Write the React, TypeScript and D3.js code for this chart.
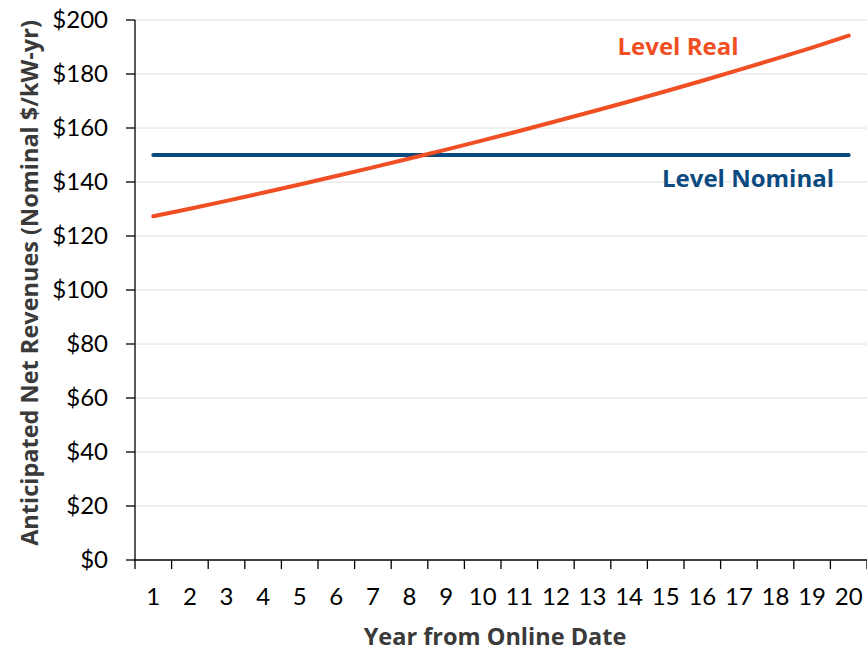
import React from "react";
import * as d3 from "d3";

const years = [1, 2, 3, 4, 5, 6, 7, 8, 9, 10, 11, 12, 13, 14, 15, 16, 17, 18, 19, 20];
const levelReal = [127.3, 130.1, 133.0, 136.0, 139.1, 142.2, 145.4, 148.7, 152.0, 155.4, 158.9, 162.5, 166.1, 169.8, 173.6, 177.5, 181.5, 185.6, 189.8, 194.2];
const levelNominal = [150, 150, 150, 150, 150, 150, 150, 150, 150, 150, 150, 150, 150, 150, 150, 150, 150, 150, 150, 150];
const yTicks = [0, 20, 40, 60, 80, 100, 120, 140, 160, 180, 200];

const W = 867, H = 652;
const L = 135, R = 867, T = 20, B = 560;
const FONT = "Lato, 'Open Sans', sans-serif";
const BOLD = "'Open Sans', Lato, sans-serif";

export default function App() {
  const x = d3.scaleBand<number>().domain(years).range([L, R]);
  const y = d3.scaleLinear().domain([0, 200]).range([B, T]);
  const cx = (d: number) => (x(d) as number) + x.bandwidth() / 2;
  const line = d3.line<number>().x((_, i) => cx(years[i])).y((v) => y(v));
  const bounds = years.map((d) => x(d) as number).concat([R]);

  return (
    <svg width={W} height={H} style={{ position: "absolute", left: 0, top: 0, background: "#fff" }}>
      {yTicks.map((t) => (
        <g key={t}>
          {t > 0 && <line x1={L} x2={R} y1={y(t)} y2={y(t)} stroke="#e0e0e0" strokeWidth={1} />}
          <line x1={L - 9} x2={L} y1={y(t)} y2={y(t)} stroke="#000" strokeWidth={1.3} />
          <text x={L - 27} y={y(t)} dy="0.35em" textAnchor="end" fontFamily={FONT} fontSize={24} fill="#000">
            {"$" + t}
          </text>
        </g>
      ))}
      <line x1={L} x2={L} y1={T} y2={B} stroke="#000" strokeWidth={1.3} />
      <line x1={L} x2={R} y1={B} y2={B} stroke="#000" strokeWidth={1.3} />
      {bounds.map((b, i) => (
        <line key={i} x1={b} x2={b} y1={B} y2={B + 9} stroke="#000" strokeWidth={1.3} />
      ))}
      {years.map((d) => (
        <text key={d} x={cx(d)} y={B + 45} textAnchor="middle" fontFamily={FONT} fontSize={24} fill="#000">
          {d}
        </text>
      ))}
      <path d={line(levelNominal) || ""} fill="none" stroke="#0B4A80" strokeWidth={4} strokeLinecap="round" />
      <path d={line(levelReal) || ""} fill="none" stroke="#F04E23" strokeWidth={4} strokeLinecap="round" />
      <text x={678} y={55} textAnchor="middle" fontFamily={BOLD} fontWeight="bold" fontSize={24} fill="#F04E23">
        Level Real
      </text>
      <text x={748} y={187} textAnchor="middle" fontFamily={BOLD} fontWeight="bold" fontSize={24} fill="#0B4A80">
        Level Nominal
      </text>
      <text x={495} y={645} textAnchor="middle" fontFamily={BOLD} fontWeight="bold" fontSize={23.5} fill="#3a3a3a">
        Year from Online Date
      </text>
      <text
        transform={`translate(38, 283) rotate(-90)`}
        textAnchor="middle"
        fontFamily={BOLD}
        fontWeight="bold"
        fontSize={23.5}
        fill="#3a3a3a"
      >
        Anticipated Net Revenues (Nominal $/kW-yr)
      </text>
    </svg>
  );
}
